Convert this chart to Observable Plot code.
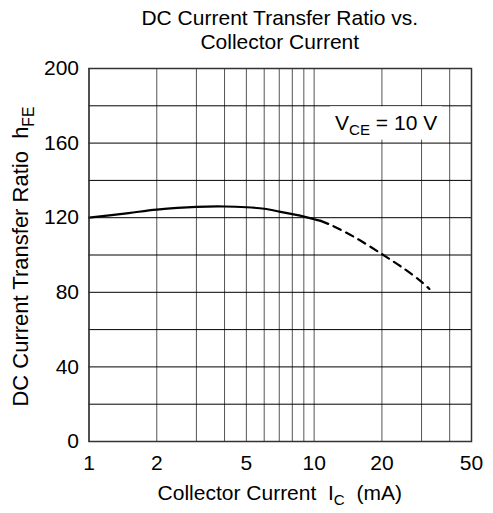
<!DOCTYPE html>
<html><head><meta charset="utf-8">
<script src="https://cdn.jsdelivr.net/npm/d3@7"></script>
<script src="https://cdn.jsdelivr.net/npm/@observablehq/plot@0.6"></script>
<style>body{margin:0;background:#fff} svg{display:block}</style>
</head><body><div id="chart"></div>
<script>
// Data
const solidIc  = [1, 1.5, 2, 3, 4, 5, 6, 7, 8, 9, 10, 10.7];
const solidHfe = [120, 122.5, 124.3, 125.8, 126, 125.6, 124.8, 123.3, 121.9, 120.6, 119.2, 118.3];
const dashIc   = [10.7, 12, 15, 20, 25, 30, 32.5];
const dashHfe  = [118.3, 115.8, 109.8, 100.5, 92.8, 85.6, 81.8];
const xGrid = [1, 2, 3, 4, 5, 6, 7, 8, 9, 10, 20, 30, 40, 50];
const yGrid = [0, 20, 40, 60, 80, 100, 120, 140, 160, 180, 200];
const xTicks = [1, 2, 5, 10, 20, 50];
const yTicks = [0, 40, 80, 120, 160, 200];
const titleLines = ["DC Current Transfer Ratio vs.", "Collector Current"];

const solid = solidIc.map((x, i) => ({x, y: solidHfe[i]}));
const dash = dashIc.map((x, i) => ({x, y: dashHfe[i]}));

const FONT = "'Liberation Sans', Arial, sans-serif";
const FS = 21;

const chart = Plot.plot({
  width: 493, height: 513,
  marginLeft: 88.5, marginRight: 22, marginTop: 68, marginBottom: 72,
  style: {fontFamily: FONT, fontSize: FS + "px", background: "#fff", color: "#000"},
  x: {type: "log", domain: [1, 50], ticks: xTicks, tickFormat: d => String(d), tickSize: 0, tickPadding: 14, label: null},
  y: {domain: [0, 200], ticks: yTicks, tickSize: 0, tickPadding: 10, label: null},
  marks: [
    Plot.ruleX(xGrid, {stroke: "#555", strokeWidth: 1}),
    Plot.ruleY(yGrid, {stroke: "#000", strokeWidth: 1}),
    Plot.line(solid, {x: "x", y: "y", stroke: "#000", strokeWidth: 2.2, curve: "catmull-rom"}),
    Plot.line(dash, {x: "x", y: "y", stroke: "#000", strokeWidth: 2.2, strokeDasharray: "8,6", curve: "catmull-rom"}),
    Plot.frame({stroke: "#333", strokeWidth: 1.5})
  ]
});
document.getElementById("chart").appendChild(chart);

const svg = d3.select(chart);
const xs = chart.scale("x"), ys = chart.scale("y");
const cx = (xs.range[0] + xs.range[1]) / 2;
const cy = (ys.range[0] + ys.range[1]) / 2;

function addText(g, parts) {
  parts.forEach(p => {
    const t = g.append("tspan").text(p.t);
    if (p.sub) t.attr("font-size", "0.72em").attr("dy", "0.35em");
    if (p.after) t.attr("dy", "-0.25em");
  });
}

// title
titleLines.forEach((line, i) => {
  svg.append("text").attr("x", cx).attr("y", 25 + i * 23.5)
    .attr("text-anchor", "middle").attr("font-family", FONT).attr("font-size", FS)
    .attr("fill", "#000").text(line);
});

// y label
const yl = svg.append("text").attr("transform", `translate(28,${cy + 2}) rotate(-90)`)
  .attr("text-anchor", "middle").attr("font-family", FONT).attr("font-size", 22)
  .attr("fill", "#000").style("white-space", "pre");
addText(yl, [{t: "DC Current Transfer Ratio  h"}, {t: "FE", sub: true}]);

// x label
const xl = svg.append("text").attr("x", cx).attr("y", 500)
  .attr("text-anchor", "middle").attr("font-family", FONT).attr("font-size", FS)
  .attr("fill", "#000").style("white-space", "pre");
addText(xl, [{t: "Collector Current  I"}, {t: "C", sub: true}, {t: "  (mA)", after: true}]);

// legend annotation with white box behind
const lg = svg.append("g");
const lt = lg.append("text").attr("x", 335).attr("y", 130).attr("text-anchor", "start")
  .attr("font-family", FONT).attr("font-size", FS).attr("fill", "#000").style("white-space", "pre");
addText(lt, [{t: "V"}, {t: "CE", sub: true}, {t: " = 10 V", after: true}]);
const bb = lt.node().getBBox();
lg.insert("rect", "text").attr("x", bb.x - 5).attr("y", ys.apply(180) + 1)
  .attr("width", bb.width + 10).attr("height", ys.apply(160) - ys.apply(180) - 4).attr("fill", "#fff");
</script>
</body></html>
